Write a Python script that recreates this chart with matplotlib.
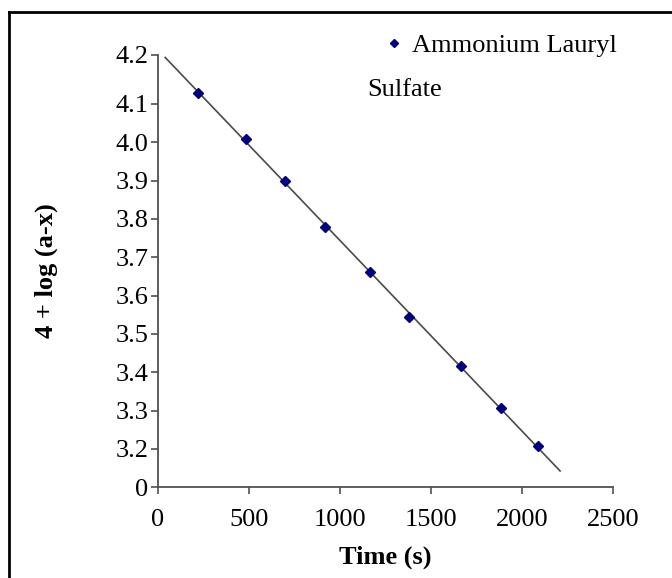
import numpy as np
import matplotlib
matplotlib.use("Agg")
import matplotlib.pyplot as plt
from matplotlib.lines import Line2D

# donnees
time_s = [220, 484, 698, 918, 1165, 1379, 1665, 1885, 2088]
log_ax = [4.129, 4.009, 3.899, 3.779, 3.661, 3.544, 3.416, 3.306, 3.207]
series_name = "Ammonium Lauryl"
series_name2 = "Sulfate"
x_ticks = [0, 500, 1000, 1500, 2000, 2500]
y_tick_labels = ["0", "3.2", "3.3", "3.4", "3.5", "3.6", "3.7", "3.8", "3.9", "4.0", "4.1", "4.2"]

plt.rcParams["font.family"] = ["Liberation Serif", "DejaVu Serif"]
FS = 19

fig = plt.figure(figsize=(6.72, 5.78), dpi=100)
ax = fig.add_axes([0.235, 0.157, 0.677, 0.748])

# droite de tendance
a, b = np.polyfit(time_s, log_ax, 1)
xl = np.array([40, 2210])
ax.plot(xl, a * xl + b, color="#4a4a4a", lw=1.2, zorder=1)
ax.plot(time_s, log_ax, ls="none", marker="D", ms=5, color="#000080", zorder=2)

ax.set_xlim(0, 2500)
ax.set_ylim(3.1, 4.228)
ax.set_xticks(x_ticks)
ax.set_xticklabels([str(t) for t in x_ticks])
y_pos = [3.1 + 0.1 * i for i in range(11)] + [4.228]
ax.set_yticks(y_pos)
ax.set_yticklabels(y_tick_labels)

for s in ["top", "right"]:
    ax.spines[s].set_visible(False)
for s in ["left", "bottom"]:
    ax.spines[s].set_color("#505050")
    ax.spines[s].set_linewidth(1.3)
ax.tick_params(axis="both", labelsize=FS, color="#505050", length=5, width=1.2)
ax.tick_params(axis="x", pad=11)
ax.tick_params(axis="y", pad=2)

ax.set_xlabel("Time (s)", fontsize=FS, fontweight="bold", labelpad=10)
ax.set_ylabel("4 + log (a-x)", fontsize=FS, fontweight="bold", labelpad=41)

# legende
h = Line2D([], [], ls="none", marker="D", ms=4.5, color="#000080")
fig.legend([h], [series_name], loc="center left", bbox_to_anchor=(0.576, 0.922),
           frameon=False, fontsize=FS, handlelength=0.5, handletextpad=0.45,
           borderaxespad=0, borderpad=0)
fig.text(0.546, 0.845, series_name2, fontsize=FS, ha="left", va="center")

# cadre
fig.add_artist(Line2D([0.013, 0.013], [0.0, 0.979], transform=fig.transFigure,
                      color="black", lw=2))
fig.add_artist(Line2D([0.013, 1.0], [0.979, 0.979], transform=fig.transFigure,
                      color="black", lw=2))

fig.savefig("out.png", dpi=100)
